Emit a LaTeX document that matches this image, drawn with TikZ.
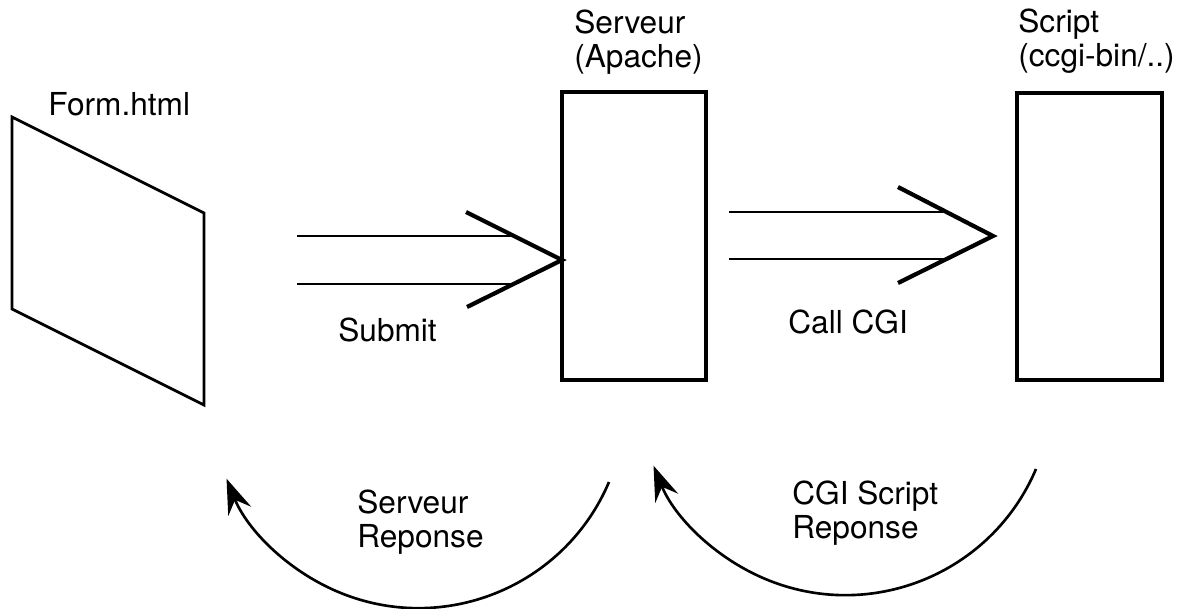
\documentclass[tikz,border=0pt]{standalone}
\usepackage{fontspec}
\setmainfont{TeX Gyre Heros}
\usetikzlibrary{arrows.meta}
\begin{document}
\begin{tikzpicture}[x=0.02cm, y=-0.02cm]
\tikzset{boite/.style={draw, line width=1.8pt, inner sep=0pt, minimum width=2.88cm, minimum height=5.76cm}}
\tikzset{texte/.style={anchor=base west, inner sep=0pt, align=left, font=\fontsize{18}{19}\selectfont}}
\tikzset{trait/.style={line width=1.6pt}}
\tikzset{chevron/.style={line width=2.4pt}}
\tikzset{retour/.style={line width=1.5pt, -{Stealth[length=20pt, width=14pt, inset=7pt]}}}
\useasboundingbox (0,0) rectangle (1181,609);
\coordinate (F1) at (12,117);
\coordinate (F2) at (204,213);
\coordinate (F3) at (204,405);
\coordinate (F4) at (12,309);
\draw[trait] (F1) -- (F2) -- (F3) -- (F4) -- cycle;
\node[texte] (form) at (48,115) {Form.html};
\node[boite] (serveur) at (634,236) {};
\node[boite, minimum width=2.9cm, minimum height=5.74cm] (script) at (1089.5,236.5) {};
\node[texte] (lserveur) at (574,67) {Serveur\\(Apache)};
\node[texte] (lscript) at (1018,66) {Script\\(ccgi-bin/..)};
% submit
\coordinate (S1) at (297,236);
\coordinate (S2) at (297,284);
\coordinate (S3) at (514,236);
\coordinate (S4) at (514,284);
\coordinate (S5) at (466,212);
\coordinate (S6) at (467,307);
\coordinate (S7) at (562,260);
\draw[trait] (S1) -- (S3);
\draw[trait] (S2) -- (S4);
\draw[chevron] (S5) -- (S7) -- (S6);
\node[texte] (submit) at (338,341) {Submit};
% call cgi
\coordinate (C1) at (729,212);
\coordinate (C2) at (729,259);
\coordinate (C3) at (946,212);
\coordinate (C4) at (946,259);
\coordinate (C5) at (898,187);
\coordinate (C6) at (898,283);
\coordinate (C7) at (993,236);
\draw[trait] (C1) -- (C3);
\draw[trait] (C2) -- (C4);
\draw[chevron] (C5) -- (C7) -- (C6);
\node[texte] (callcgi) at (788,333) {Call CGI};
% reponses
\coordinate (R1) at (609,482);
\coordinate (R2) at (1036,469);
\draw[retour] (R1) arc[start angle=23, end angle=158, radius=207];
\draw[retour] (R2) arc[start angle=23, end angle=158, radius=207];
\node[texte] (rserveur) at (357,547) {Serveur\\Reponse};
\node[texte] (rscript) at (792,538) {CGI Script\\Reponse};
\end{tikzpicture}
\end{document}
